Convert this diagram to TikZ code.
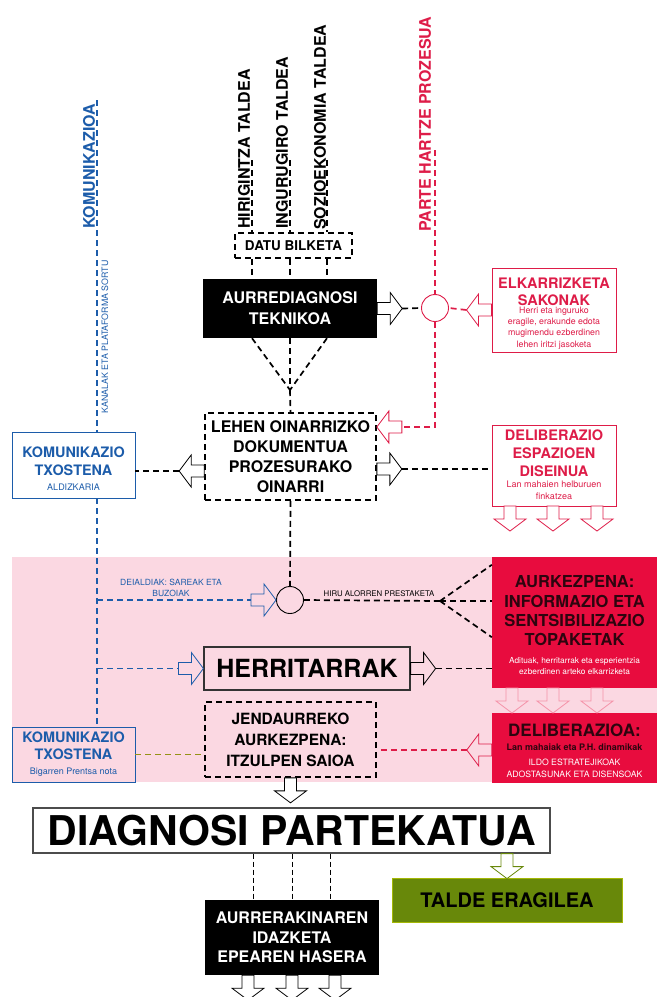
\documentclass[tikz,border=0pt]{standalone}
\usepackage{fontspec}
\setmainfont{TeX Gyre Heros}
\usepackage{xcolor}
\usepackage{tikz}

\definecolor{komblue}{RGB}{28,92,170}
\definecolor{phred}{RGB}{222,28,72}
\definecolor{bandpink}{RGB}{251,216,226}
\definecolor{boxred}{RGB}{232,12,62}
\definecolor{darktext}{RGB}{45,5,15}
\definecolor{olivefill}{RGB}{104,136,10}
\definecolor{olivedash}{RGB}{150,145,20}

\newcommand{\fsz}[2]{\fontsize{#1}{#2}\selectfont}

\begin{document}
\begin{tikzpicture}[x=1pt, y=-1pt,
    every node/.append style={inner sep=0pt, align=center},
    dline/.style={line width=1.7pt, dash pattern=on 6pt off 4pt},
    thinline/.style={line width=1pt, dash pattern=on 5pt off 3pt},
    dbox/.style={draw, dline},
    blkbox/.style={fill=black, text=white},
    vlabel/.style={font=\fsz{16}{19}\bfseries, rotate=90, anchor=west},
    harrow/.pic={
        \draw[pic actions, line width=0.8pt, line join=miter]
            (0,-6) -- (13,-6) -- (13,-16) -- (25,0) -- (13,16) -- (13,6) -- (0,6) -- cycle;
        \coordinate (-tail) at (0,0);
        \coordinate (-tip) at (25,0);
    }]
    \useasboundingbox (0,0) rectangle (657,997);
    \clip (0,0) rectangle (657,997);
    \fill[bandpink] (12,557) rectangle (657,782);

    \node[vlabel, text=komblue] (komlbl) at (89,229) {KOMUNIKAZIOA};
    \node[vlabel] (hirilbl) at (244,229) {HIRIGINTZA TALDEA};
    \node[vlabel] (ingulbl) at (282,229) {INGURUGIRO TALDEA};
    \node[vlabel] (soziolbl) at (320,230) {SOZIOEKONOMIA TALDEA};
    \node[vlabel, text=phred] (partelbl) at (425,232) {PARTE HARTZE PROZESUA};
    \node[rotate=90, text=komblue, font=\fsz{8.8}{10}] (kanal) at (105,337) {KANALAK ETA PLATAFORMA SORTU};

    \node[dbox, minimum width=117, minimum height=25, font=\fsz{13.5}{16}\bfseries] (datu) at (293.5,245.5) {DATU BILKETA};
    \node[blkbox, minimum width=174, minimum height=59, font=\fsz{16}{21}\bfseries] (aurre) at (290,308.5) {AURREDIAGNOSI\\TEKNIKOA};
    \node[dbox, minimum width=171, minimum height=87, font=\fsz{16}{20}\bfseries] (lehen) at (290.5,456.5) {LEHEN OINARRIZKO\\DOKUMENTUA\\PROZESURAKO\\OINARRI};

    \node[draw=komblue, line width=0.9pt, fill=white, minimum width=123, minimum height=66] (kom1) at (73.5,465) {};
    \node[text=komblue, font=\fsz{14.4}{18}\bfseries] (kom1t) at (73.5,461) {KOMUNIKAZIO\\TXOSTENA};
    \node[text=komblue, font=\fsz{9}{11}] (kom1s) at (73.5,487) {ALDIZKARIA};

    \node[draw=phred, line width=0.9pt, fill=white, minimum width=124, minimum height=84] (elkar) at (554,310) {};
    \node[text=phred, font=\fsz{14.5}{17}\bfseries] (elkart) at (554,291.5) {ELKARRIZKETA\\SAKONAK};
    \node[text=phred, font=\fsz{8.8}{11.3}] (elkars) at (554,328) {Herri eta inguruko\\eragile, erakunde edota\\mugimendu ezberdinen\\lehen iritzi jasoketa};

    \node[draw=phred, line width=0.9pt, fill=white, minimum width=124, minimum height=81] (delib) at (554,465.5) {};
    \node[text=phred, font=\fsz{14.5}{18}\bfseries] (delibt) at (554,453) {DELIBERAZIO\\ESPAZIOEN\\DISEINUA};
    \node[text=phred, font=\fsz{9}{12}] (delibs) at (554,490) {Lan mahaien helburuen\\finkatzea};

    \node[circle, draw=phred, line width=0.9pt, fill=white, minimum size=27] (join1) at (435,308) {};
    \node[circle, draw, line width=0.9pt, minimum size=27] (join2) at (290,600) {};

    \node[text=komblue, font=\fsz{8.5}{11}] (deial) at (171,587.5) {DEIALDIAK: SAREAK ETA\\BUZOIAK};
    \node[font=\fsz{7.8}{9}] (hiru) at (379,594) {HIRU ALORREN PRESTAKETA};

    \node[fill=boxred, minimum width=165, minimum height=131] (aurkez) at (574.5,622.5) {};
    \node[text=darktext, font=\fsz{16.5}{19.3}\bfseries] (aurkezt) at (574.5,611) {AURKEZPENA:\\INFORMAZIO ETA\\SENTSIBILIZAZIO\\TOPAKETAK};
    \node[text=white, font=\fsz{8.3}{11}] (aurkezs) at (574.5,666.5) {Adituak, herritarrak eta esperientzia\\ezberdinen arteko elkarrizketa};

    \node[draw=black!80, line width=1.2pt, minimum width=206, minimum height=43, font=\fsz{25}{30}\bfseries] (herri) at (307,668.5) {HERRITARRAK};
    \node[dbox, minimum width=171, minimum height=75, font=\fsz{15.5}{21}\bfseries] (jend) at (290.5,739.5) {JENDAURREKO\\AURKEZPENA:\\ITZULPEN SAIOA};

    \node[fill=boxred, minimum width=165, minimum height=70] (deliba) at (574.5,748) {};
    \node[text=darktext, font=\fsz{17}{20}\bfseries] (delibat) at (574.5,730) {DELIBERAZIOA:};
    \node[text=darktext, font=\fsz{9}{11}\bfseries] (delibam) at (574.5,747) {Lan mahaiak eta P.H. dinamikak};
    \node[text=white, font=\fsz{8.7}{12}] (delibas) at (574.5,768) {ILDO ESTRATEJIKOAK\\ADOSTASUNAK ETA DISENSOAK};

    \node[draw=komblue, line width=0.9pt, fill=bandpink, minimum width=123, minimum height=55] (kom2) at (73.5,754.5) {};
    \node[text=komblue, font=\fsz{14.4}{17}\bfseries] (kom2t) at (73.5,745.5) {KOMUNIKAZIO\\TXOSTENA};
    \node[text=komblue, font=\fsz{9}{11}] (kom2s) at (73.5,772) {Bigarren Prentsa nota};

    \node[draw=black!70, line width=1.2pt, fill=white, minimum width=517, minimum height=45, font=\fsz{41}{44}\bfseries] (diag) at (291.5,830.5) {DIAGNOSI PARTEKATUA};
    \node[blkbox, minimum width=174, minimum height=75, font=\fsz{16}{19.5}\bfseries] (aurrerak) at (292,937.5) {AURRERAKINAREN\\IDAZKETA\\EPEAREN HASERA};
    \node[fill=olivefill, draw=olivefill!60!yellow, line width=1pt, minimum width=230, minimum height=44, font=\fsz{20}{24}\bfseries] (talde) at (507,900) {TALDE ERAGILEA};

    \pic[fill=white] (araurre) at (aurre.east) {harrow};
    \pic[draw=phred, fill=white, rotate=180] (arelkar) at (elkar.west) {harrow};
    \pic[draw=phred, fill=white, rotate=180] (arlehenin) at ([xshift=25pt, yshift=29.5pt]lehen.east) {harrow};
    \pic[fill=white] (arlehenout) at ([yshift=-12.5pt]lehen.east) {harrow};
    \pic[fill=white, rotate=180] (arkom) at ([yshift=-14.5pt]lehen.west) {harrow};
    \foreach \x [count=\i] in {510,553,597}
        \pic[draw=phred, fill=white, rotate=-90] (ardisei\i) at (\x,506) {harrow};
    \pic[draw=komblue] (ardeial) at ([xshift=-25pt]join2.west) {harrow};
    \pic[draw=komblue] (arherriin) at ([xshift=-25pt]herri.west) {harrow};
    \pic (arherriout) at (herri.east) {harrow};
    \foreach \x [count=\i] in {512,553,597}
        \pic[draw=boxred!45, rotate=-90] (araurk\i) at (\x,688) {harrow};
    \pic[draw=phred, rotate=180] (ardelib) at ([yshift=-2pt]deliba.west) {harrow};
    \pic[fill=white, rotate=-90] (arjend) at (jend.south) {harrow};
    \pic[draw=olivefill, fill=white, rotate=-90] (artalde) at (diag.south -| talde.north) {harrow};
    \foreach \x [count=\i] in {248,292,335} {
        \coordinate (bx\i) at (\x,0);
        \pic[fill=white, rotate=-90] (arbot\i) at (aurrerak.south -| bx\i) {harrow};
    }

    \coordinate (komtop) at (97,100);
    \draw[dline, komblue, line width=1.4pt] (komtop) -- (komtop |- kom1.north);
    \draw[dline, komblue, line width=1.4pt] (komtop |- kom1.south) -- (komtop |- kom2.north);
    \draw[dline, komblue, line width=1.4pt] (komtop |- ardeial-tail) -- (ardeial-tail);
    \draw[dline, komblue, line width=1.4pt] (komtop |- arherriin-tail) -- (arherriin-tail);

    \coordinate (meet) at (290,390);
    \coordinate (hiritop) at (252,160);
    \coordinate (ingutop) at (290,160);
    \coordinate (soziotop) at (327,160);
    \foreach \t in {hiritop,ingutop,soziotop} {
        \draw[dline] (\t) -- (\t |- datu.north);
        \draw[dline] (\t |- datu.south) -- (\t |- aurre.north);
        \draw[dline] (\t |- aurre.south) -- (meet);
    }
    \draw[dline] (meet) -- (lehen.north);

    \coordinate (partetop) at (435,150);
    \draw[dline] (araurre-tip) -- (join1.west);
    \draw[dline, phred] (partetop) -- (join1.north);
    \draw[dline, phred] (arelkar-tip) -- (join1.east);
    \draw[dline, phred] (join1.south) |- (arlehenin-tail);
    \draw[dline] (arlehenout-tip) -- (arlehenout-tip -| delib.west);
    \draw[dline] (arkom-tip) -- (arkom-tip -| kom1.east);

    \coordinate (split) at (440,601);
    \draw[dline] (lehen.south) -- (join2.north);
    \draw[dline] (join2.east) -- (split);
    \draw[dline] (split) -- ([yshift=-8pt]aurkez.north west);
    \draw[dline] (split) -- (split -| aurkez.west);
    \draw[dline] (split) -- ([yshift=51pt]aurkez.south west);
    \draw[dline] (arherriout-tip) -- (arherriout-tip -| aurkez.west);
    \draw[dline, phred] (ardelib-tip) -- (ardelib-tip -| jend.east);
    \draw[dline, olivedash] (kom2.east) -- (kom2.east -| jend.west);

    \foreach \x [count=\i] in {253,292,330} {
        \coordinate (dx\i) at (\x,0);
        \draw[thinline] (diag.south -| dx\i) -- (aurrerak.north -| dx\i);
    }
\end{tikzpicture}
\end{document}
